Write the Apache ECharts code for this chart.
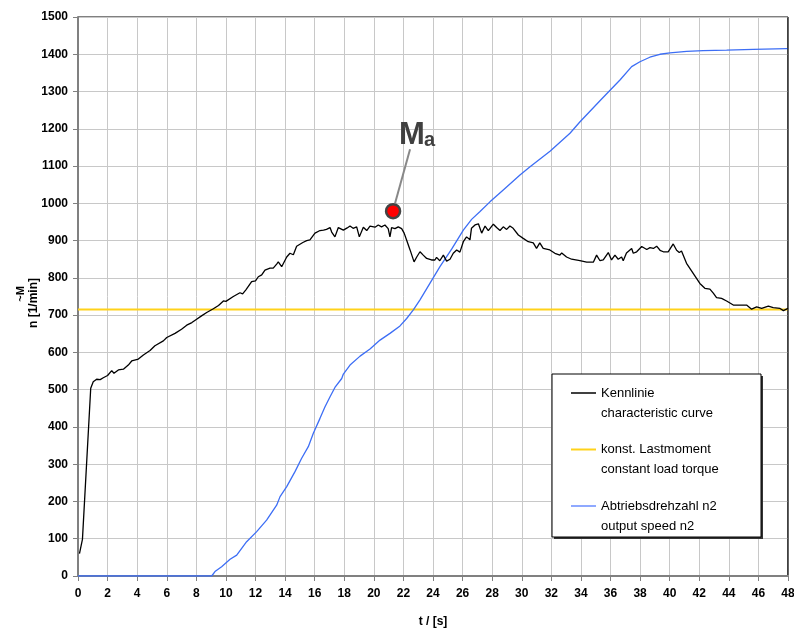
<!DOCTYPE html>
<html>
<head>
<meta charset="utf-8">
<script src="https://cdn.jsdelivr.net/npm/echarts@6/dist/echarts.min.js"></script>
<style>html,body{margin:0;padding:0;background:#fff;}#c{width:794px;height:632px;}</style>
</head>
<body>
<div id="c"></div>
<script>
// ---- data ----
const kennlinieT = [0.1,0.3,0.86,1.03,1.26,1.5,1.71,2.0,2.28,2.43,2.73,3.07,3.18,3.4,3.63,4.08,4.42,4.87,5.2,5.77,6.0,6.56,6.66,7.0,7.35,7.7,8.02,8.35,8.7,9.15,9.5,9.83,10.0,10.5,10.95,11.13,11.35,11.74,12.0,12.19,12.42,12.64,12.75,12.98,13.2,13.43,13.54,13.77,14.11,14.33,14.56,14.78,14.89,15.2,15.46,15.68,16.02,16.36,16.6,16.8,17.04,17.15,17.37,17.6,17.94,18.2,18.39,18.6,18.84,19.02,19.29,19.52,19.74,20.08,20.3,20.52,20.75,20.97,21.09,21.2,21.43,21.65,21.88,22.05,22.22,22.45,22.72,22.9,23.12,23.34,23.57,23.9,24.13,24.24,24.46,24.7,24.92,25.15,25.37,25.6,25.82,26.05,26.27,26.5,26.6,26.84,27.07,27.29,27.52,27.74,28.08,28.3,28.53,28.75,28.98,29.2,29.42,29.77,30.1,30.44,30.78,31.0,31.22,31.45,31.9,32.24,32.58,32.7,33.03,33.37,33.93,34.39,34.84,35.06,35.29,35.51,35.85,36.07,36.3,36.52,36.75,36.86,37.08,37.43,37.54,37.77,38.11,38.45,38.67,38.9,39.12,39.35,39.57,39.9,40.24,40.47,40.65,40.8,41.14,41.59,42.04,42.38,42.72,42.95,43.17,43.51,43.85,44.3,44.75,45.2,45.54,45.88,46.22,46.67,47.0,47.46,47.69,48.0];
const kennlinieV = [60,98,504,521,528,527,532,538,551,544,553,555,557,566,577,582,593,605,618,631,640,651,649,662,673,680,689,698,707,717,726,738,737,750,760,757,768,790,792,803,808,821,818,826,826,837,843,830,856,866,862,885,888,895,900,902,920,927,928,930,935,923,910,935,928,934,939,933,937,910,936,927,939,936,942,937,942,932,910,935,932,937,932,920,901,875,843,856,870,861,852,848,848,855,846,861,845,850,866,875,869,897,910,902,933,942,945,920,939,927,944,935,927,937,930,939,933,915,906,897,894,879,894,879,875,866,861,867,856,850,846,842,842,861,846,848,868,848,861,850,856,846,867,879,866,870,884,876,881,879,885,874,870,870,891,874,868,872,839,812,785,772,770,759,747,745,738,727,727,727,716,722,718,724,720,718,712,718];
const speedT = [0,9.04,9.26,9.71,10.28,10.73,11.4,12.08,12.75,13.43,13.66,14.11,14.67,15.12,15.57,15.91,16.36,16.7,17.04,17.37,17.83,17.94,18.39,19.07,19.74,20.42,21.09,21.77,22.22,22.67,23.12,23.8,24.47,25.26,26.05,26.61,27.18,27.85,28.75,29.88,30.56,31.91,33.26,33.94,35.4,36.64,37.43,37.99,38.66,39.34,40.02,41.15,42.27,43.85,45.65,47.9,48.0];
const speedV = [0,0,12,25,45,56,92,119,150,190,213,240,280,316,347,383,423,454,481,506,530,542,566,590,609,633,651,671,691,714,741,786,830,877,928,957,978,1004,1036,1076,1098,1140,1188,1219,1280,1331,1367,1380,1392,1400,1404,1408,1410,1411,1413,1415,1415];
const loadTorqueT = [0, 48];
const loadTorqueV = [715, 715];
const maPoint = [21.3, 979];
const legendLines = [
  ['Kennlinie', 'characteristic curve'],
  ['konst. Lastmoment', 'constant load torque'],
  ['Abtriebsdrehzahl n2', 'output speed n2']
];
const seriesColors = ['#000000', '#ffd21a', '#3d6ef5'];
const legendColors = ['#000000', '#ffd21a', '#6a8cff'];

const zip = (a, b) => a.map((x, i) => [x, b[i]]);
const FONT = '"Liberation Sans", Arial, sans-serif';

const chart = echarts.init(document.getElementById('c'), null, {renderer: 'canvas'});

const axisCommon = {
  axisLine: {show: true, lineStyle: {color: '#808080', width: 2}},
  axisTick: {show: true, inside: false, length: 5, lineStyle: {color: '#808080', width: 1}},
  splitLine: {show: true, lineStyle: {color: '#c8c8c8', width: 1}},
  axisLabel: {color: '#000', fontFamily: FONT, fontWeight: 'bold', fontSize: 12, formatter: (v) => String(v)}
};

const legendGraphics = [];
const LX = 552, LY = 374, LW = 209, LH = 163;
legendGraphics.push({type: 'rect', shape: {x: LX + 2, y: LY + 2, width: LW, height: LH},
  style: {fill: '#333', stroke: null}, z: 99});
legendGraphics.push({type: 'rect', shape: {x: LX, y: LY, width: LW, height: LH},
  style: {fill: '#fff', stroke: '#000', lineWidth: 1}, z: 100});
legendLines.forEach((pair, i) => {
  const y0 = 393 + i * 56.5;
  legendGraphics.push({type: 'line', shape: {x1: 571, y1: y0, x2: 596, y2: y0},
    style: {stroke: legendColors[i], lineWidth: i === 1 ? 2 : 1.5}, z: 101});
  legendGraphics.push({type: 'text', x: 601, y: y0,
    style: {text: pair[0], fill: '#000', font: '13px ' + FONT, textVerticalAlign: 'middle', verticalAlign: 'middle'}, z: 101});
  legendGraphics.push({type: 'text', x: 601, y: y0 + 20,
    style: {text: pair[1], fill: '#000', font: '13px ' + FONT, textVerticalAlign: 'middle', verticalAlign: 'middle'}, z: 101});
});

const yNameGraphics = [
  {type: 'text', x: 34, y: 303, rotation: Math.PI / 2,
   style: {text: 'n [1/min]', fill: '#000', font: 'bold 12px ' + FONT, align: 'center', verticalAlign: 'middle', textAlign: 'center', textVerticalAlign: 'middle'}},
  {type: 'text', x: 21, y: 294, rotation: Math.PI / 2,
   style: {text: '~M', fill: '#000', font: 'bold 11px ' + FONT, align: 'center', verticalAlign: 'middle', textAlign: 'center', textVerticalAlign: 'middle'}}
];

chart.setOption({
  animation: false,
  backgroundColor: '#fff',
  grid: {left: 78, top: 17, right: 6, bottom: 56, show: true, borderColor: '#000', borderWidth: 1,
         backgroundColor: 'transparent', containLabel: false, outerBoundsMode: 'none'},
  xAxis: Object.assign({}, axisCommon, {
    type: 'value', min: 0, max: 48, interval: 2,
    name: 't / [s]', nameLocation: 'middle', nameGap: 40,
    nameTextStyle: {color: '#000', fontFamily: FONT, fontWeight: 'bold', fontSize: 12},
    axisLabel: Object.assign({}, axisCommon.axisLabel, {margin: 12})
  }),
  yAxis: Object.assign({}, axisCommon, {
    type: 'value', min: 0, max: 1500, interval: 100,
    axisLabel: Object.assign({}, axisCommon.axisLabel, {margin: 10})
  }),
  series: [
    {name: 'Kennlinie', type: 'line', data: zip(kennlinieT, kennlinieV), showSymbol: false, symbol: 'none',
     lineStyle: {color: seriesColors[0], width: 1.3}, z: 5},
    {name: 'konst. Lastmoment', type: 'line', data: zip(loadTorqueT, loadTorqueV), showSymbol: false, symbol: 'none',
     lineStyle: {color: seriesColors[1], width: 2}, z: 3},
    {name: 'Abtriebsdrehzahl n2', type: 'line', data: zip(speedT, speedV), showSymbol: false, symbol: 'none',
     lineStyle: {color: seriesColors[2], width: 1.3}, z: 4},
    {name: 'Ma', type: 'scatter', data: [maPoint], symbol: 'circle', symbolSize: 14,
     itemStyle: {color: '#ff0000', borderColor: '#444', borderWidth: 2.5, opacity: 1}, z: 20}
  ],
  graphic: legendGraphics.concat(yNameGraphics)
});

// annotation attached to the Ma point, and black right frame edge
const p = chart.convertToPixel({gridIndex: 0}, maPoint);
const tr = chart.convertToPixel({gridIndex: 0}, [48, 1500]);
const br = chart.convertToPixel({gridIndex: 0}, [48, 0]);
chart.setOption({
  graphic: legendGraphics.concat(yNameGraphics).concat([
    {type: 'line', shape: {x1: tr[0], y1: tr[1], x2: br[0], y2: br[1] - 1},
     style: {stroke: '#000', lineWidth: 1}, z: 10},
    {type: 'line', shape: {x1: p[0] + 2, y1: p[1] - 8, x2: p[0] + 17, y2: p[1] - 62},
     style: {stroke: '#888', lineWidth: 2}, z: 50},
    {type: 'text', x: p[0] + 6, y: p[1] - 60,
     style: {text: 'M', fill: '#404040', font: 'bold 31px ' + FONT, textVerticalAlign: 'bottom', verticalAlign: 'bottom'}, z: 50},
    {type: 'text', x: p[0] + 31, y: p[1] - 61,
     style: {text: 'a', fill: '#404040', font: 'bold 20px ' + FONT, textVerticalAlign: 'bottom', verticalAlign: 'bottom'}, z: 50}
  ])
});
</script>
</body>
</html>
